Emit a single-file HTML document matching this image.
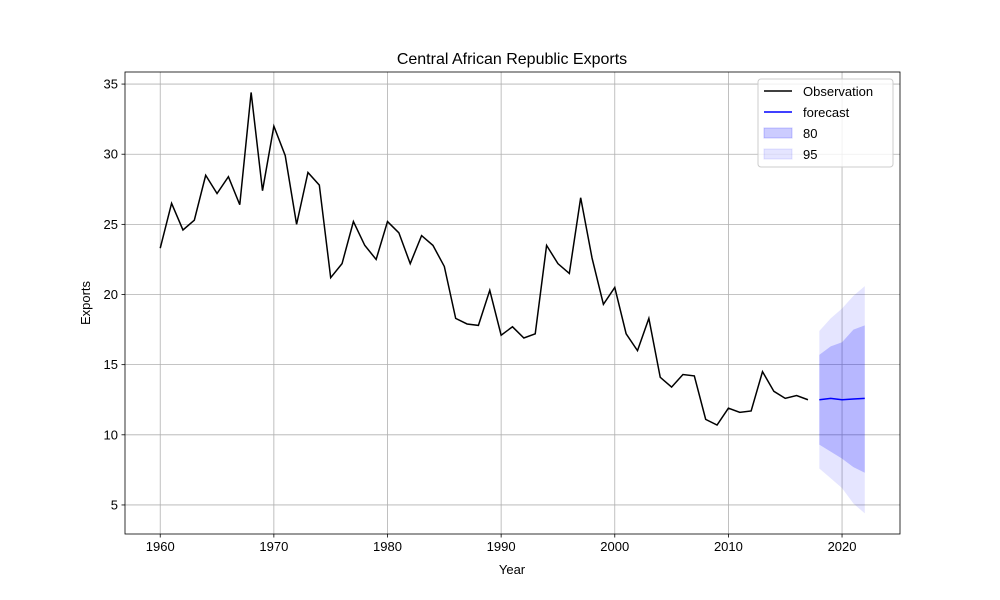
<!DOCTYPE html>
<html><head><meta charset="utf-8"><style>
body{margin:0;background:#fff;}
svg{display:block;font-family:"Liberation Sans","DejaVu Sans",sans-serif;}
</style></head><body>
<svg id="chart" width="1000" height="600"></svg>
<script>
const years = [];
for (let y = 1960; y <= 2017; y++) years.push(y);
const observed = [23.3,26.5,24.6,25.3,28.5,27.2,28.4,26.4,34.4,27.4,32.0,29.9,25.0,28.7,27.8,21.2,22.2,25.2,23.5,22.5,25.2,24.4,22.2,24.2,23.5,22.0,18.3,17.9,17.8,20.3,17.1,17.7,16.9,17.2,23.5,22.2,21.5,26.9,22.6,19.3,20.5,17.2,16.0,18.3,14.1,13.4,14.3,14.2,11.1,10.7,11.9,11.6,11.7,14.5,13.1,12.6,12.8,12.5];
const fcYears = [2018,2019,2020,2021,2022];
const forecast = [12.5,12.6,12.5,12.55,12.6];
const lo80 = [9.3,8.8,8.3,7.7,7.3];
const hi80 = [15.7,16.3,16.6,17.5,17.8];
const lo95 = [7.6,6.9,6.2,5.1,4.4];
const hi95 = [17.4,18.3,19.0,19.9,20.6];
const xTicks = [1960,1970,1980,1990,2000,2010,2020];
const yTicks = [5,10,15,20,25,30,35];

const L=125,R=900,T=72,B=534;
const xmin=1956.9,xmax=2025.1,ymin=2.93,ymax=35.86;
const X=v=>L+(v-xmin)/(xmax-xmin)*(R-L);
const Y=v=>B-(v-ymin)/(ymax-ymin)*(B-T);
const svg=document.getElementById('chart');
const NS='http://www.w3.org/2000/svg';
function mk(tag,attrs,parent){const e=document.createElementNS(NS,tag);for(const k in attrs)e.setAttribute(k,attrs[k]);(parent||svg).appendChild(e);return e;}

// grid
xTicks.forEach(t=>{const l=mk('line',{x1:X(t),x2:X(t),y1:T,y2:B,stroke:'#b0b0b0','stroke-width':0.8});

});
yTicks.forEach(t=>{const l=mk('line',{x1:L,x2:R,y1:Y(t),y2:Y(t),stroke:'#b0b0b0','stroke-width':0.8});

});

function band(lo,hi,fill,op,name){
  let d='M'+fcYears.map((y,i)=>X(y)+','+Y(hi[i])).join('L');
  d+='L'+fcYears.slice().reverse().map((y,i)=>X(y)+','+Y(lo[lo.length-1-i])).join('L')+'Z';
  const p=mk('path',{d,fill,'fill-opacity':op});
  
  
}
band(lo95,hi95,'#0000ff',0.1,'band-95');
band(lo80,hi80,'#0000ff',0.2,'band-80');

const obs=mk('polyline',{points:years.map((y,i)=>X(y)+','+Y(observed[i])).join(' '),fill:'none',stroke:'#000','stroke-width':1.5});


const fc=mk('polyline',{points:fcYears.map((y,i)=>X(y)+','+Y(forecast[i])).join(' '),fill:'none',stroke:'#0000ff','stroke-width':1.5});



// frame
const fr=mk('rect',{x:L,y:T,width:R-L,height:B-T,fill:'none',stroke:'#000','stroke-width':0.8});



xTicks.forEach(t=>{mk('line',{x1:X(t),x2:X(t),y1:B,y2:B+3.5,stroke:'#000','stroke-width':0.8});
const tx=mk('text',{x:X(t),y:B+17,'text-anchor':'middle','font-size':13});tx.textContent=t;

});
yTicks.forEach(t=>{mk('line',{x1:L-3.5,x2:L,y1:Y(t),y2:Y(t),stroke:'#000','stroke-width':0.8});
const tx=mk('text',{x:L-7,y:Y(t)+4.5,'text-anchor':'end','font-size':13});tx.textContent=t;

});

const ti=mk('text',{x:512,y:64,'text-anchor':'middle','font-size':16});ti.textContent='Central African Republic Exports';


const xl=mk('text',{x:512,y:574,'text-anchor':'middle','font-size':13});xl.textContent='Year';


const yl=mk('text',{x:90,y:303,'text-anchor':'middle','font-size':13,transform:'rotate(-90 90 303)'});yl.textContent='Exports';



// legend
const lg=mk('g',{});


mk('rect',{x:758,y:79,width:135,height:88,rx:3,fill:'#fff','fill-opacity':0.8,stroke:'#ccc'},lg);
const items=[['Observation','line','#000',1],['forecast','line','#0000ff',1],['80','rect','#0000ff',0.2],['95','rect','#0000ff',0.1]];
items.forEach((it,i)=>{const cy=91+i*21;
 if(it[1]==='line')mk('line',{x1:764,x2:792,y1:cy,y2:cy,stroke:it[2],'stroke-width':1.5},lg);
 else mk('rect',{x:764,y:cy-5,width:28,height:10,fill:it[2],'fill-opacity':it[3],stroke:it[2],'stroke-opacity':it[3]},lg);
 const tx=mk('text',{x:803,y:cy+5,'font-size':13},lg);tx.textContent=it[0];
 
 
});
</script>
</body></html>
